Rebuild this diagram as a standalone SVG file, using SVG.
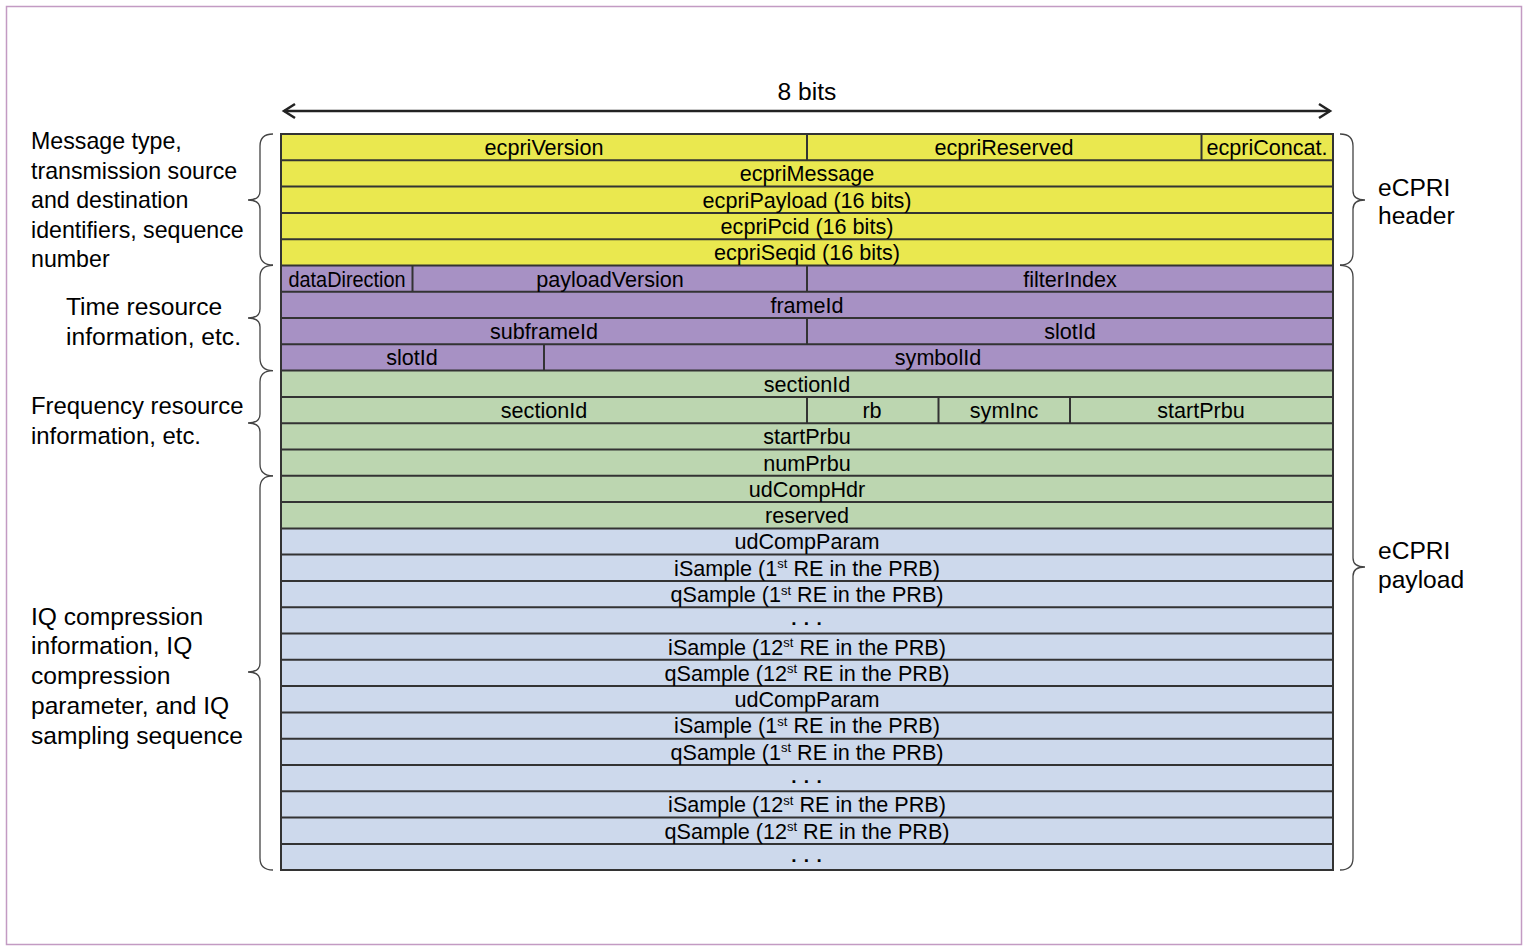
<svg xmlns="http://www.w3.org/2000/svg" width="1525" height="948" viewBox="0 0 1525 948">
<style>
text{font-family:"Liberation Sans",Arial,sans-serif;fill:#000}
.t{font-size:21.6px;text-anchor:middle}
.dots{font-size:19px;font-weight:bold;text-anchor:middle;letter-spacing:1px}
.lbl{font-size:23.2px}
.lbl2{font-size:24.6px}
.lbl3{font-size:23.9px}
.rl{font-size:24.6px}
.sup{font-size:13px}
.y{fill:#eae84f}
.p{fill:#a791c4}
.g{fill:#bcd6b0}
.b{fill:#cdd9ec}
.grid{stroke:#333;stroke-width:2;fill:none}
.brace{stroke:#444;stroke-width:1.3;fill:none}
</style>
<rect x="6.5" y="6.5" width="1515" height="938" fill="#fff" stroke="#c39bc3" stroke-width="1.5"/>

<g id="width-arrow">
<line x1="284" y1="111" x2="1330" y2="111" stroke="#222" stroke-width="2.5"/>
<path d="M295,104 L284,111 L295,118" stroke="#222" stroke-width="2.5" fill="none"/>
<path d="M1319,104 L1330,111 L1319,118" stroke="#222" stroke-width="2.5" fill="none"/>
<text x="807" y="100" style="font-size:24.6px;text-anchor:middle">8 bits</text>
</g>

<g id="bands">
<rect class="y" x="281" y="134" width="1052" height="131.4"/>
<rect class="p" x="281" y="265.4" width="1052" height="105.2"/>
<rect class="g" x="281" y="370.6" width="1052" height="157.8"/>
<rect class="b" x="281" y="528.4" width="1052" height="341.6"/>
</g>

<g id="grid" class="grid">
<rect x="281" y="134" width="1052" height="736"/>
<path d="M281,160.3H1333M281,186.6H1333M281,212.9H1333M281,239.2H1333M281,265.4H1333M281,291.7H1333M281,318H1333M281,344.3H1333M281,370.6H1333M281,396.9H1333M281,423.2H1333M281,449.5H1333M281,475.8H1333M281,502.1H1333M281,528.4H1333M281,554.6H1333M281,580.9H1333M281,607.2H1333M281,633.5H1333M281,659.8H1333M281,686.1H1333M281,712.4H1333M281,738.7H1333M281,765H1333M281,791.3H1333M281,817.6H1333M281,843.9H1333"/>
<path d="M807,134V160.3M1201.5,134V160.3M412.5,265.4V291.7M807,265.4V291.7M807,318V344.3M544,344.3V370.6M807,396.9V423.2M938.5,396.9V423.2M1070,396.9V423.2"/>
</g>

<g id="header-fields">
<text class="t" x="544" y="155">ecpriVersion</text>
<text class="t" x="1004" y="155">ecpriReserved</text>
<text class="t" x="1267" y="155">ecpriConcat.</text>
<text class="t" x="807" y="181.3">ecpriMessage</text>
<text class="t" x="807" y="207.6">ecpriPayload (16 bits)</text>
<text class="t" x="807" y="233.9">ecpriPcid (16 bits)</text>
<text class="t" x="807" y="260.2">ecpriSeqid (16 bits)</text>
</g>

<g id="time-fields">
<text class="t" x="347" y="286.5" textLength="117" lengthAdjust="spacingAndGlyphs">dataDirection</text>
<text class="t" x="610" y="286.5">payloadVersion</text>
<text class="t" x="1070" y="286.5">filterIndex</text>
<text class="t" x="807" y="312.8">frameId</text>
<text class="t" x="544" y="339.1">subframeId</text>
<text class="t" x="1070" y="339.1">slotId</text>
<text class="t" x="412" y="365.4">slotId</text>
<text class="t" x="938" y="365.4">symbolId</text>
</g>

<g id="freq-fields">
<text class="t" x="807" y="391.6">sectionId</text>
<text class="t" x="544" y="417.9">sectionId</text>
<text class="t" x="872" y="417.9">rb</text>
<text class="t" x="1004" y="417.9">symInc</text>
<text class="t" x="1201" y="417.9">startPrbu</text>
<text class="t" x="807" y="444.2">startPrbu</text>
<text class="t" x="807" y="470.5">numPrbu</text>
<text class="t" x="807" y="496.8">udCompHdr</text>
<text class="t" x="807" y="523.1">reserved</text>
</g>

<g id="iq-fields">
<text class="t" x="807" y="549.4">udCompParam</text>
<text class="t" x="807" y="575.7">iSample (1<tspan class="sup" dy="-7.5">st</tspan><tspan dy="7.5"> RE in the PRB)</tspan></text>
<text class="t" x="807" y="602">qSample (1<tspan class="sup" dy="-7.5">st</tspan><tspan dy="7.5"> RE in the PRB)</tspan></text>
<text class="dots" x="807" y="624.5">. . .</text>
<text class="t" x="807" y="654.5">iSample (12<tspan class="sup" dy="-7.5">st</tspan><tspan dy="7.5"> RE in the PRB)</tspan></text>
<text class="t" x="807" y="680.8">qSample (12<tspan class="sup" dy="-7.5">st</tspan><tspan dy="7.5"> RE in the PRB)</tspan></text>
<text class="t" x="807" y="707.1">udCompParam</text>
<text class="t" x="807" y="733.4">iSample (1<tspan class="sup" dy="-7.5">st</tspan><tspan dy="7.5"> RE in the PRB)</tspan></text>
<text class="t" x="807" y="759.7">qSample (1<tspan class="sup" dy="-7.5">st</tspan><tspan dy="7.5"> RE in the PRB)</tspan></text>
<text class="dots" x="807" y="782.5">. . .</text>
<text class="t" x="807" y="812.3">iSample (12<tspan class="sup" dy="-7.5">st</tspan><tspan dy="7.5"> RE in the PRB)</tspan></text>
<text class="t" x="807" y="838.6">qSample (12<tspan class="sup" dy="-7.5">st</tspan><tspan dy="7.5"> RE in the PRB)</tspan></text>
<text class="dots" x="807" y="862">. . .</text>
</g>

<g id="braces" class="brace">
<path d="M273,134 Q260,134 260,146 L260,191 Q260,200 248,200 Q260,200 260,209 L260,253 Q260,265 273,265"/>
<path d="M273,265.4 Q260,265.4 260,277 L260,309 Q260,318 248,318 Q260,318 260,327 L260,358 Q260,370.6 273,370.6"/>
<path d="M273,370.6 Q260,370.6 260,382 L260,414 Q260,423 248,423 Q260,423 260,432 L260,464 Q260,475.8 273,475.8"/>
<path d="M273,475.8 Q260,475.8 260,488 L260,663 Q260,672 248,672 Q260,672 260,681 L260,858 Q260,870 273,870"/>
<path d="M1340,134 Q1353,134 1353,146 L1353,191 Q1353,200 1365,200 Q1353,200 1353,209 L1353,253 Q1353,265 1340,265"/>
<path d="M1340,265.4 Q1353,265.4 1353,277 L1353,558 Q1353,567 1365,567 Q1353,567 1353,576 L1353,858 Q1353,870 1340,870"/>
</g>

<g id="left-labels">
<text class="lbl" x="31" y="149">Message type,</text>
<text class="lbl" x="31" y="179">transmission source</text>
<text class="lbl" x="31" y="208">and destination</text>
<text class="lbl" x="31" y="238">identifiers, sequence</text>
<text class="lbl" x="31" y="267">number</text>
<text class="lbl2" x="66" y="315">Time resource</text>
<text class="lbl2" x="66" y="345">information, etc.</text>
<text class="lbl3" x="31" y="414">Frequency resource</text>
<text class="lbl3" x="31" y="444">information, etc.</text>
<text class="lbl2" x="31" y="625">IQ compression</text>
<text class="lbl2" x="31" y="654">information, IQ</text>
<text class="lbl2" x="31" y="684">compression</text>
<text class="lbl2" x="31" y="714">parameter, and IQ</text>
<text class="lbl2" x="31" y="744">sampling sequence</text>
</g>

<g id="right-labels">
<text class="rl" x="1378" y="196">eCPRI</text>
<text class="rl" x="1378" y="224">header</text>
<text class="rl" x="1378" y="559">eCPRI</text>
<text class="rl" x="1378" y="588">payload</text>
</g>
</svg>
